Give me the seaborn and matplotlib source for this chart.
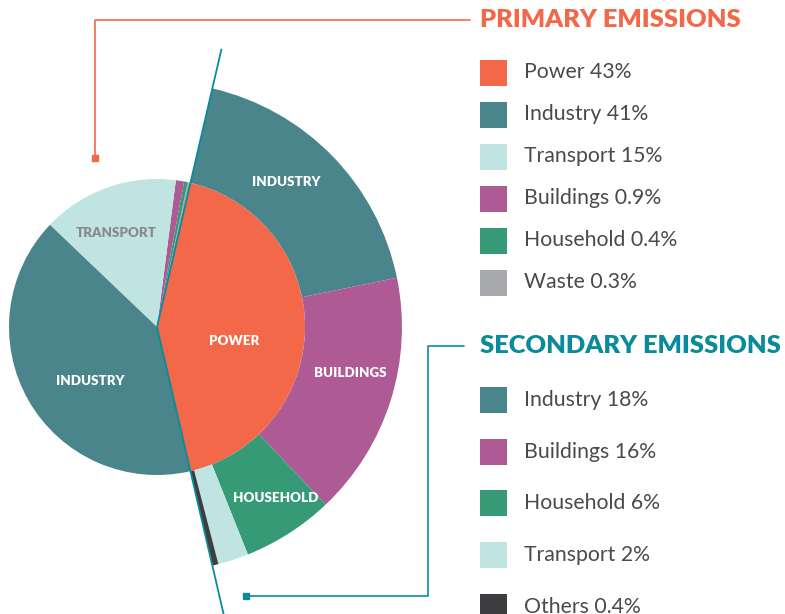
import matplotlib
matplotlib.use("Agg")
import matplotlib.pyplot as plt
import numpy as np
import seaborn as sns
from matplotlib.patches import Rectangle

# Primary emissions, share of total (%)
primary_labels = ["Power", "Industry", "Transport", "Buildings", "Household", "Waste"]
primary_values = [43, 41, 15, 0.9, 0.4, 0.3]
primary_pct = ["43%", "41%", "15%", "0.9%", "0.4%", "0.3%"]

# Secondary emissions: breakdown of the power slice (%)
secondary_labels = ["Industry", "Buildings", "Household", "Transport", "Others"]
secondary_values = [18, 16, 6, 2, 0.4]
secondary_pct = ["18%", "16%", "6%", "2%", "0.4%"]

colors = {
    "Power": "#f26849",
    "Industry": "#4a858b",
    "Transport": "#c0e4e1",
    "Buildings": "#ae5a94",
    "Household": "#369a76",
    "Waste": "#a8a9ad",
    "Others": "#3e3e40",
}
ORANGE = "#f2694a"
TEAL = "#0a8b9c"
TEXT = "#4a4a4a"

sns.set_theme(style="white")
plt.rcParams["font.family"] = ["Lato", "DejaVu Sans"]

W, H = 785, 614
fig = plt.figure(figsize=(W / 100, H / 100), dpi=100)
renderer = fig.canvas.get_renderer()

# pie axes: 1 data unit = R px, pie centre at (CX, CY) px from top-left
R, CX, CY = 148, 157, 327
ax = fig.add_axes([0, 0, 1, 1])

# primary pie, counter-clockwise from the power slice
order = [0, 5, 4, 3, 2, 1]
p_vals = [primary_values[i] for i in order]
p_cols = [colors[primary_labels[i]] for i in order]
power_frac = primary_values[0] / sum(primary_values)
start = -power_frac * 180
wedges1, _ = ax.pie(p_vals, colors=p_cols, startangle=start, counterclock=True,
                    radius=1, wedgeprops=dict(linewidth=0))

# secondary ring over the power slice, clockwise from its top edge
sec = np.array(secondary_values, dtype=float)
sec_frac = sec / sec.sum() * power_frac
end = start + power_frac * 360
wedges2, _ = ax.pie(sec_frac, normalize=False, colors=[colors[l] for l in secondary_labels],
                    startangle=end, counterclock=False, radius=1.655,
                    wedgeprops=dict(width=0.655, linewidth=0))

ax.set_aspect("auto")
ax.set_xlim(-CX / R, (W - CX) / R)
ax.set_ylim(-(H - CY) / R, CY / R)
ax.axis("off")

# split lines along the edges of the power slice
for ang, length in [(end, 1.93), (start, 2.4)]:
    t = np.deg2rad(ang)
    ax.plot([0, length * np.cos(t)], [0, length * np.sin(t)], color=TEAL, lw=1.3,
            solid_capstyle="butt", zorder=5)


def wedge_label(w, text, r, color="white", dang=0):
    mid = np.deg2rad((w.theta1 + w.theta2) / 2 + dang)
    ax.text(r * np.cos(mid), r * np.sin(mid), text, ha="center", va="center",
            fontsize=9.6, fontweight="heavy", color=color, zorder=6)


w_by_name = {primary_labels[i]: w for i, w in zip(order, wedges1)}
wedge_label(w_by_name["Power"], "POWER", 0.53, dang=-10)
wedge_label(w_by_name["Industry"], "INDUSTRY", 0.58, dang=9)
wedge_label(w_by_name["Transport"], "TRANSPORT", 0.69, color="#8a8a8a", dang=4)
for w, name, r, da in zip(wedges2[:3], secondary_labels[:3], [1.31, 1.34, 1.405], [4, 4, 2]):
    wedge_label(w, name.upper(), r, dang=da)

# legend / annotation layer in pixel coordinates
lax = fig.add_axes([0, 0, 1, 1])
lax.set_xlim(0, W)
lax.set_ylim(H, 0)
lax.axis("off")
lax.patch.set_alpha(0)


def fit(t, width):
    ext = t.get_window_extent(renderer)
    t.set_fontsize(t.get_fontsize() * width / ext.width)


# connector brackets
lax.plot([95, 95, 470], [158, 20, 20], color=ORANGE, lw=1.2)
lax.add_patch(Rectangle((92, 155), 6, 6, color=ORANGE))
lax.plot([246, 428, 428, 464], [596, 596, 346, 346], color=TEAL, lw=1.2)
lax.add_patch(Rectangle((243, 593), 6, 6, color=TEAL))

t1 = lax.text(480, 20, "PRIMARY EMISSIONS", color=ORANGE, fontweight="heavy",
              fontsize=16, ha="left", va="center")
fit(t1, 262)
t2 = lax.text(480, 346, "SECONDARY EMISSIONS", color=TEAL, fontweight="heavy",
              fontsize=16, ha="left", va="center")
fit(t2, 302)

probe = lax.text(0, 0, "Household 0.4%", fontsize=14)
ext = probe.get_window_extent(renderer)
leg_fs = 14 * 154 / ext.width
probe.remove()

for i, (name, pct) in enumerate(zip(primary_labels, primary_pct)):
    y = 72.5 + i * 42
    lax.add_patch(Rectangle((480, y - 13), 27, 26, color=colors[name], lw=0))
    lax.text(524, y, f"{name} {pct}", fontsize=leg_fs, color=TEXT, ha="left", va="center")

for i, (name, pct) in enumerate(zip(secondary_labels, secondary_pct)):
    y = 400 + i * 51.7
    lax.add_patch(Rectangle((480, y - 13), 27, 26, color=colors[name], lw=0))
    lax.text(524, y, f"{name} {pct}", fontsize=leg_fs, color=TEXT, ha="left", va="center")

fig.savefig("out.png", dpi=100)
